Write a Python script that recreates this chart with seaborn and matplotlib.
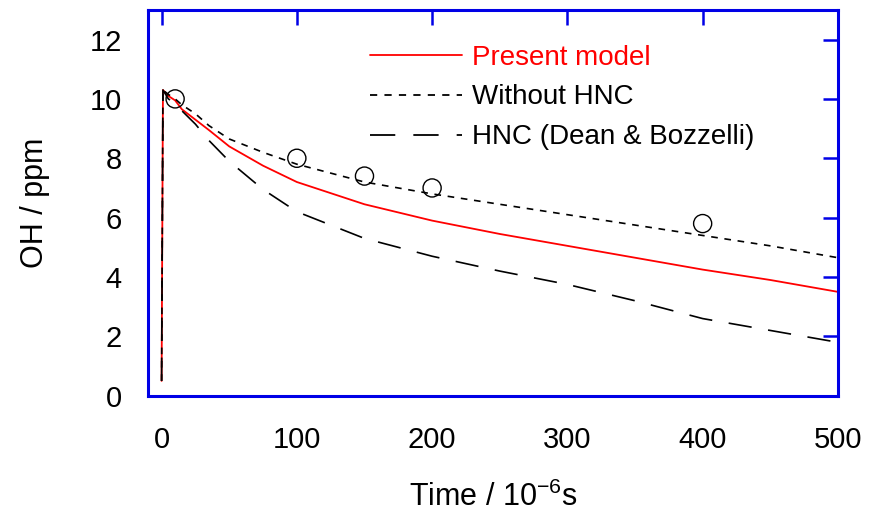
import matplotlib
matplotlib.use("Agg")
import matplotlib.pyplot as plt
import seaborn as sns
import pandas as pd

# ---- data ----
time = [0, 1, 5, 10, 15, 25, 35, 50, 75, 100, 150, 200, 250, 300, 350, 400, 450, 500]
present_model = [0.5, 10.3, 10.1, 9.95, 9.65, 9.3, 8.95, 8.4, 7.75, 7.2, 6.45, 5.9, 5.45, 5.05, 4.65, 4.25, 3.9, 3.5]
without_hnc = [0.5, 10.3, 10.15, 10.0, 9.8, 9.5, 9.1, 8.65, 8.2, 7.8, 7.2, 6.8, 6.45, 6.1, 5.75, 5.4, 5.05, 4.65]
hnc_dean = [0.5, 10.3, 10.0, 9.85, 9.6, 9.15, 8.6, 7.9, 6.95, 6.2, 5.3, 4.7, 4.2, 3.75, 3.2, 2.6, 2.2, 1.8]
exp_time = [10, 100, 150, 200, 400]
exp_oh = [10.0, 8.0, 7.4, 7.0, 5.8]

sns.set_theme(style="white")
plt.rcParams['font.family'] = ['Liberation Sans', 'DejaVu Sans']
plt.rcParams['mathtext.fontset'] = 'custom'
plt.rcParams['mathtext.rm'] = 'Liberation Sans'
plt.rcParams['mathtext.it'] = 'Liberation Sans'
plt.rcParams['text.color'] = 'black'
plt.rcParams['axes.labelcolor'] = 'black'

fig = plt.figure(figsize=(8.71, 5.18), dpi=100)
ax = fig.add_axes([0.170, 0.236, 0.792, 0.745])

df = pd.DataFrame({"t": time, "pm": present_model, "wo": without_hnc, "db": hnc_dean})
sns.lineplot(data=df, x="t", y="pm", ax=ax, color="#ff0000", lw=1.3, label="Present model", estimator=None)
sns.lineplot(data=df, x="t", y="wo", ax=ax, color="black", lw=1.2, label="Without HNC", estimator=None)
sns.lineplot(data=df, x="t", y="db", ax=ax, color="black", lw=1.2, label="HNC (Dean & Bozzelli)", estimator=None)
lines = ax.get_lines()
lines[1].set_dashes([4, 4])
lines[2].set_dashes([14, 10])

sns.scatterplot(x=exp_time, y=exp_oh, ax=ax, marker="o", s=170, facecolor="none",
                edgecolor="black", linewidth=1.0, zorder=5)

ax.set_xlim(-10, 500)
ax.set_ylim(0, 13)
ax.set_xticks([0, 100, 200, 300, 400, 500])
ax.set_yticks([0, 2, 4, 6, 8, 10, 12])
blue = "#0000e6"
for s in ax.spines.values():
    s.set_color(blue)
    s.set_linewidth(2.2)
ax.tick_params(axis="both", which="both", direction="in", length=11, width=1.8, color=blue,
               labelsize=21, top=True, right=True, labelcolor="black")
ax.tick_params(axis="x", pad=22)
ax.tick_params(axis="y", pad=19)
ax.set_xlabel("Time / 10$^{-6}$s", fontsize=22, labelpad=20, color="black")
ax.set_ylabel("OH / ppm", fontsize=22, labelpad=28, color="black")

leg = ax.legend(loc="upper left", bbox_to_anchor=(0.322, 0.91), frameon=False, fontsize=20,
                handlelength=3.3, labelspacing=0.5, handletextpad=0.36, borderpad=0, borderaxespad=0)
for h in leg.get_lines():
    h.set_linewidth(1.3)
for t in leg.get_texts():
    t.set_color("black")
leg.get_texts()[0].set_color("#ff0000")
leg.get_lines()[1].set_dashes([4, 4])
leg.get_lines()[2].set_dashes([14, 10])

fig.savefig("out.png", dpi=100)
